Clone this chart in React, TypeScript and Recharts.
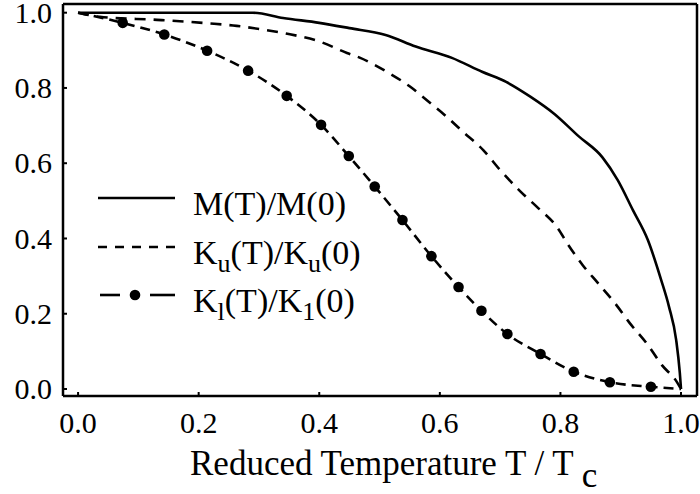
import React from 'react';
import { LineChart, Line, XAxis, YAxis, Legend } from 'recharts';

// M(T)/M(0), solid
const mTemp = [0, 0.29, 0.34, 0.4, 0.45, 0.51, 0.56, 0.62, 0.67, 0.71, 0.75, 0.79, 0.83, 0.87, 0.895, 0.92, 0.945, 0.967, 0.98, 0.992, 0.998, 1.0];
const mValue = [1.0, 1.0, 0.986, 0.973, 0.959, 0.941, 0.91, 0.88, 0.843, 0.816, 0.777, 0.731, 0.672, 0.615, 0.555, 0.476, 0.396, 0.29, 0.219, 0.13, 0.043, 0.0];

// Ku(T)/Ku(0), short dashes
const kuTemp = [0, 0.036, 0.131, 0.181, 0.213, 0.263, 0.307, 0.347, 0.401, 0.446, 0.468, 0.512, 0.551, 0.578, 0.611, 0.638, 0.672, 0.7, 0.733, 0.761, 0.794, 0.813, 0.837, 0.862, 0.89, 0.915, 0.945, 0.968, 0.993, 1.0];
const kuValue = [1.0, 0.989, 0.981, 0.976, 0.972, 0.965, 0.955, 0.944, 0.923, 0.893, 0.88, 0.843, 0.803, 0.768, 0.724, 0.684, 0.635, 0.582, 0.526, 0.484, 0.431, 0.383, 0.329, 0.282, 0.229, 0.175, 0.117, 0.064, 0.019, 0.0];

// K1(T)/K1(0), dash with dots (first and last points carry no dot)
const k1Temp = [0, 0.074, 0.143, 0.214, 0.282, 0.346, 0.403, 0.449, 0.492, 0.538, 0.586, 0.631, 0.669, 0.712, 0.767, 0.822, 0.882, 0.95, 1.0];
const k1Value = [1.0, 0.973, 0.942, 0.899, 0.846, 0.779, 0.702, 0.619, 0.538, 0.449, 0.353, 0.271, 0.208, 0.146, 0.093, 0.046, 0.018, 0.006, 0.0];

const ticks = [0, 0.2, 0.4, 0.6, 0.8, 1.0];

const toRows = (xs: number[], ys: number[]) => xs.map((x, i) => ({ x, y: ys[i] }));
const mData = toRows(mTemp, mValue);
const kuData = toRows(kuTemp, kuValue);
const k1Data = toRows(k1Temp, k1Value);

const FONT = '"Liberation Serif", "Times New Roman", serif';
const serif = { fontFamily: FONT };
const fmt = (v: number) => v.toFixed(1);

const K1Dot = (props: any) => {
  const { cx, cy, index } = props;
  if (index === 0 || index === k1Data.length - 1) return <g key={`d${index}`} />;
  return <circle key={`d${index}`} cx={cx} cy={cy} r={5.3} fill="#000" />;
};

const XTick = (props: any) => (
  <text x={props.x} y={props.y} dy="0.71em" textAnchor="middle" style={serif} fontSize={30} fill="#000">
    {fmt(props.payload.value)}
  </text>
);

const YTick = (props: any) => (
  <text x={props.x} y={props.y} dy="0.34em" textAnchor="end" style={serif} fontSize={30} fill="#000">
    {fmt(props.payload.value)}
  </text>
);

const AxisTitle = (props: any) => {
  const vb = props.viewBox || { x: 63, y: 396 };
  return (
    <text x={vb.x + 127} y={vb.y + 79} style={serif} fontSize={35} fill="#000">
      Reduced Temperature T / T <tspan dy={12}>c</tspan>
    </text>
  );
};

const sub = (s: string) => (
  <>
    <tspan fontSize={26} dy={8}>{s}</tspan>
    <tspan dy={-8}>{'\u200b'}</tspan>
  </>
);

const LegendBox = () => {
  const rows = [28, 77, 125];
  return (
    <svg width={300} height={160} style={{ overflow: 'visible', display: 'block' }}>
      <line x1={8} x2={85} y1={rows[0]} y2={rows[0]} stroke="#000" strokeWidth={2.6} />
      <line x1={8} x2={85} y1={rows[1]} y2={rows[1]} stroke="#000" strokeWidth={2.6} strokeDasharray="9 8" />
      <line x1={10} x2={30} y1={rows[2]} y2={rows[2]} stroke="#000" strokeWidth={2.6} />
      <circle cx={45} cy={rows[2]} r={5.3} fill="#000" />
      <line x1={60} x2={85} y1={rows[2]} y2={rows[2]} stroke="#000" strokeWidth={2.6} />
      <g style={serif} fontSize={34} fill="#000">
        <text x={103} y={rows[0] + 17}>M(T)/M(0)</text>
        <text x={103} y={rows[1] + 17}>K{sub('u')}(T)/K{sub('u')}(0)</text>
        <text x={103} y={rows[2] + 17}>K{sub('l')}(T)/K{sub('1')}(0)</text>
      </g>
    </svg>
  );
};

const axisLine = { stroke: '#000', strokeWidth: 2.5 };
const tickLine = { stroke: '#000', strokeWidth: 2 };
const xDomain = [-0.025, 1.0265];
const yDomain = [-0.0186, 1.0231];

export default function App() {
  return (
    <div style={{ position: 'absolute', left: 0, top: 0, width: 700, height: 494, background: '#fff', fontFamily: FONT }}>
      <LineChart width={700} height={494} margin={{ top: 3, right: 2, bottom: 0, left: 0 }} style={serif}>
        <XAxis xAxisId="b" type="number" dataKey="x" domain={xDomain} ticks={ticks}
          allowDataOverflow axisLine={axisLine} tickLine={tickLine} tickSize={-4} tickMargin={20}
          tick={<XTick />} height={98} label={<AxisTitle />} />
        <XAxis xAxisId="t" orientation="top" type="number" dataKey="x" domain={xDomain} ticks={ticks}
          allowDataOverflow axisLine={axisLine} tickLine={tickLine} tickSize={-4} tick={false} height={1} />
        <YAxis yAxisId="l" type="number" domain={yDomain} ticks={ticks}
          allowDataOverflow axisLine={axisLine} tickLine={tickLine} tickSize={-4} tickMargin={15}
          tick={<YTick />} width={63} />
        <YAxis yAxisId="r" orientation="right" type="number" domain={yDomain} ticks={ticks}
          allowDataOverflow axisLine={axisLine} tickLine={tickLine} tickSize={-4} tick={false} width={1} />
        <Line xAxisId="b" yAxisId="l" data={mData} dataKey="y" type="monotone" stroke="#000"
          strokeWidth={2.6} dot={false} isAnimationActive={false} name="M" />
        <Line xAxisId="b" yAxisId="l" data={kuData} dataKey="y" type="monotone" stroke="#000"
          strokeWidth={2.6} strokeDasharray="11 8" dot={false} isAnimationActive={false} name="Ku" />
        <Line xAxisId="b" yAxisId="l" data={k1Data} dataKey="y" type="monotone" stroke="#000"
          strokeWidth={2.6} strokeDasharray="10 6" dot={K1Dot} isAnimationActive={false} name="K1" />
        <Legend content={<LegendBox />} layout="vertical" verticalAlign="middle" align="center"
          wrapperStyle={{ left: 90, top: 170, width: 300, height: 160 }} />
      </LineChart>
    </div>
  );
}
